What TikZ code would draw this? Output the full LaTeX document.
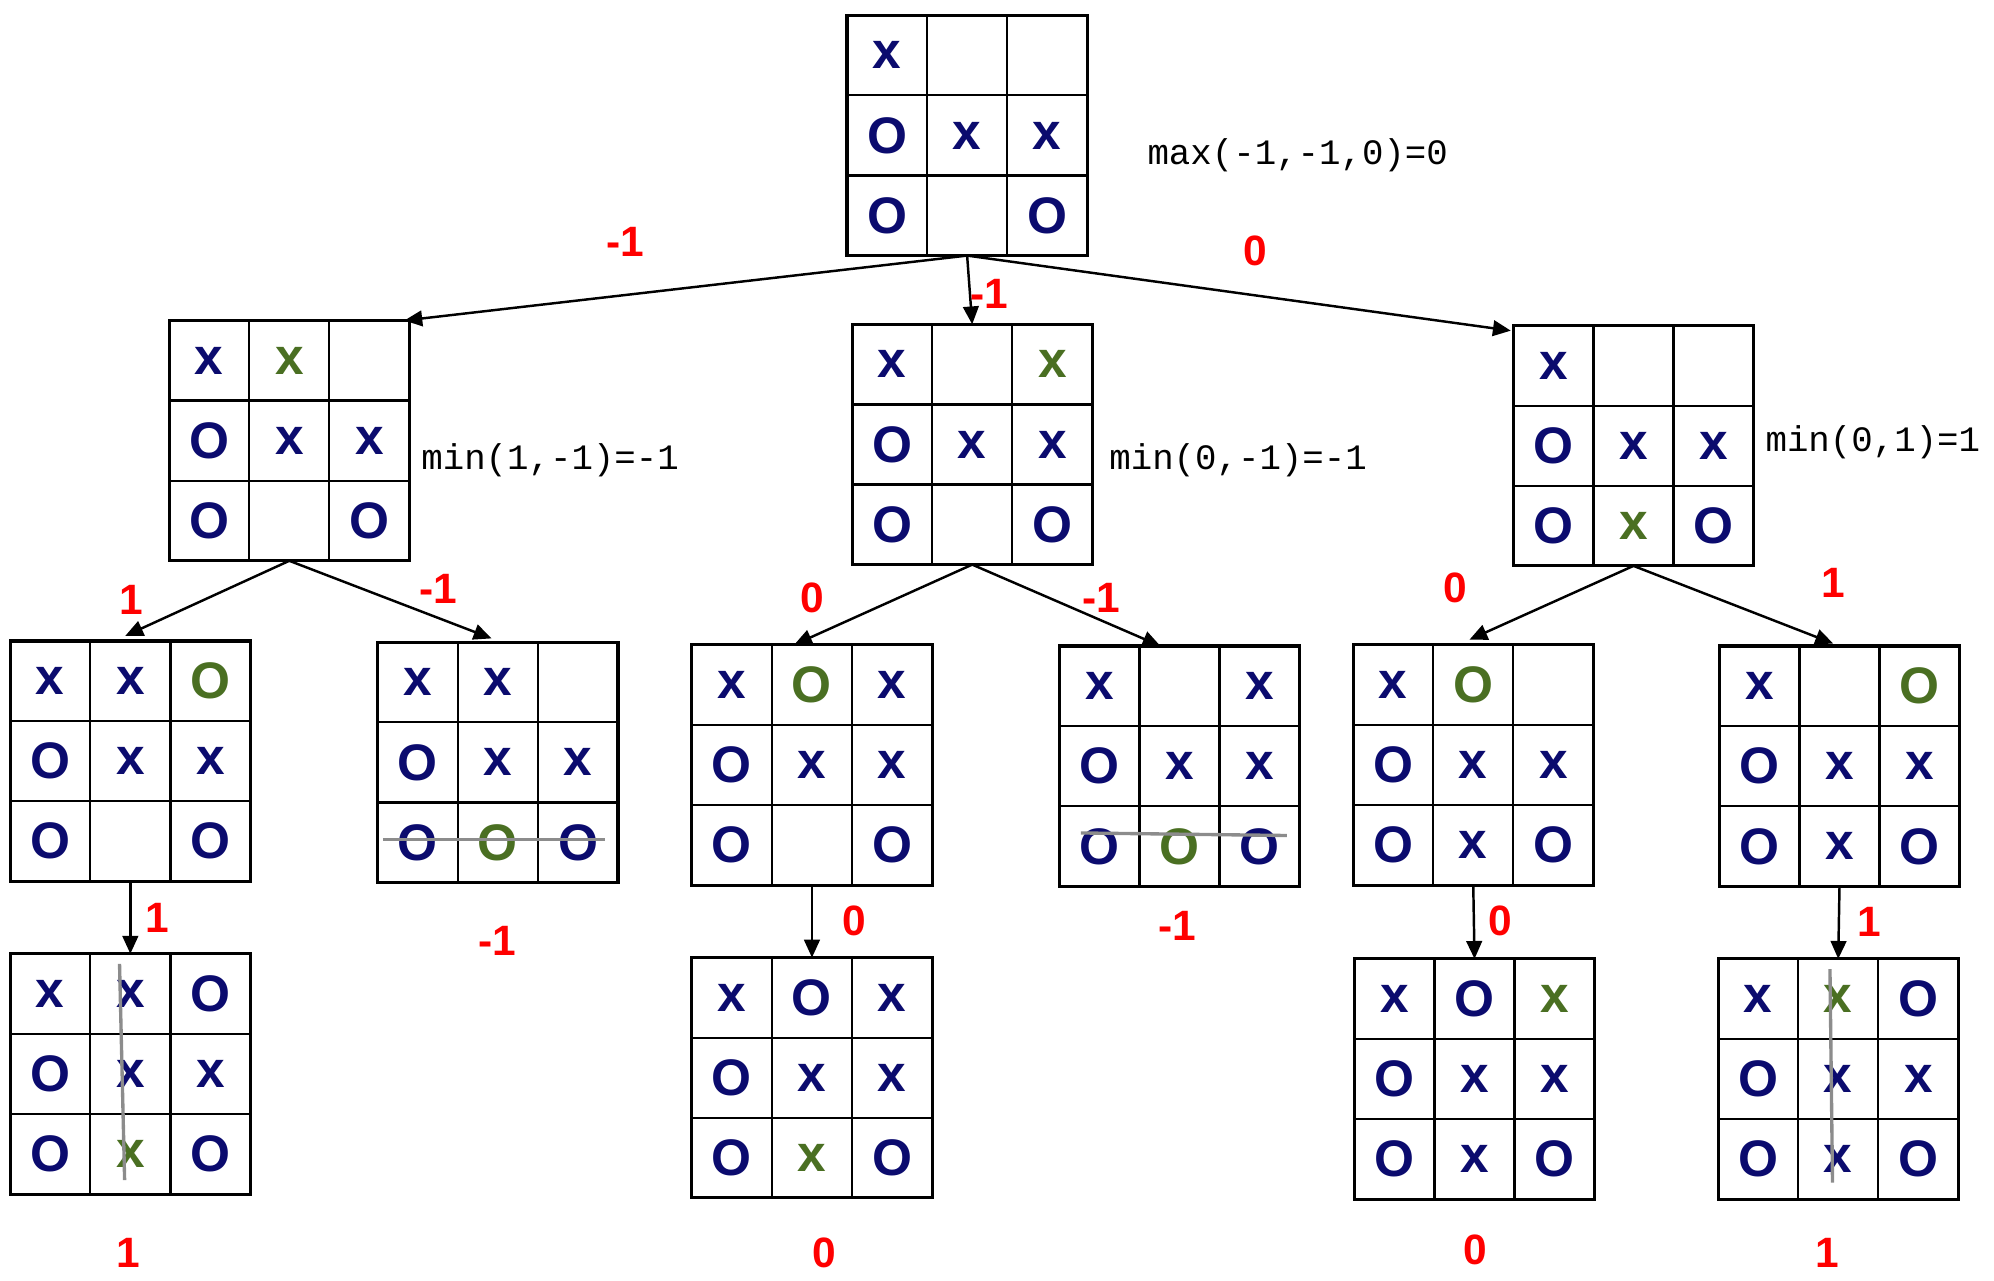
\documentclass[tikz,border=0pt]{standalone}
\usepackage{fontspec}
\usetikzlibrary{calc,arrows.meta}
\newfontfamily\sansf{Liberation Sans}
\newfontfamily\monof{Liberation Mono}
\definecolor{tnavy}{HTML}{0B0B6E}
\definecolor{tgreen}{HTML}{4A6F22}
\definecolor{tred}{HTML}{FF0000}
\definecolor{tgray}{HTML}{8C8C8C}
\newcommand\mX{\textcolor{tnavy}{x}}
\newcommand\mO{\textcolor{tnavy}{O}}
\newcommand\gX{\textcolor{tgreen}{x}}
\newcommand\gO{\textcolor{tgreen}{O}}
\newcommand\eE{}
\tikzset{
  board/.style={draw=black, line width=1.4pt, minimum width=3.78cm, minimum height=3.78cm, inner sep=0pt, outer sep=0pt},
  gridl/.style={draw=black, line width=1pt},
  cellmark/.style={font=\sansf\bfseries\fontsize{23}{23}\selectfont, inner sep=0pt},
  val/.style={font=\sansf\bfseries\fontsize{19}{19}\selectfont, text=tred, inner sep=0pt},
  eqtext/.style={font=\monof\fontsize{16}{16}\selectfont, anchor=west, inner sep=0pt},
  link/.style={line width=1.1pt, -{Triangle[length=8pt,width=7pt]}},
  strike/.style={draw=tgray, line width=1.5pt},
}
\newcommand\tttboard[4]{%
  \node[board] (#1) at ({#2+94.5},{#3+94.5}) {};
  \draw[gridl] ({#2+63},{#3}) -- ({#2+63},{#3+189}) ({#2+126},{#3}) -- ({#2+126},{#3+189})
               ({#2},{#3+63}) -- ({#2+189},{#3+63}) ({#2},{#3+126}) -- ({#2+189},{#3+126});
  \foreach \m [count=\i from 0, evaluate=\i as \cc using {mod(\i,3)}, evaluate=\i as \rr using {int(\i/3)}] in {#4}
    \node[cellmark] at ({#2+31.5+63*\cc},{#3+31.5+63*\rr}) {\m};
}
\begin{document}
\begin{tikzpicture}[x=0.02cm, y=-0.02cm]
\useasboundingbox (0,0) rectangle (1568,1007);
% boards
\tttboard{root}{666}{12}{\mX,\eE,\eE,\mO,\mX,\mX,\mO,\eE,\mO}
\tttboard{L}{133}{252}{\mX,\gX,\eE,\mO,\mX,\mX,\mO,\eE,\mO}
\tttboard{M}{670}{255}{\mX,\eE,\gX,\mO,\mX,\mX,\mO,\eE,\mO}
\tttboard{R}{1190}{256}{\mX,\eE,\eE,\mO,\mX,\mX,\mO,\gX,\mO}
\tttboard{LL}{8}{504}{\mX,\mX,\gO,\mO,\mX,\mX,\mO,\eE,\mO}
\tttboard{LR}{297}{505}{\mX,\mX,\eE,\mO,\mX,\mX,\mO,\gO,\mO}
\tttboard{ML}{544}{507}{\mX,\gO,\mX,\mO,\mX,\mX,\mO,\eE,\mO}
\tttboard{MR}{833}{508}{\mX,\eE,\mX,\mO,\mX,\mX,\mO,\gO,\mO}
\tttboard{RL}{1064}{507}{\mX,\gO,\eE,\mO,\mX,\mX,\mO,\mX,\mO}
\tttboard{RR}{1352}{508}{\mX,\eE,\gO,\mO,\mX,\mX,\mO,\mX,\mO}
\tttboard{LLL}{8}{750}{\mX,\mX,\mO,\mO,\mX,\mX,\mO,\gX,\mO}
\tttboard{MLL}{544}{753}{\mX,\mO,\mX,\mO,\mX,\mX,\mO,\gX,\mO}
\tttboard{RLL}{1065}{754}{\mX,\mO,\gX,\mO,\mX,\mX,\mO,\mX,\mO}
\tttboard{RRL}{1351}{754}{\mX,\gX,\mO,\mO,\mX,\mX,\mO,\mX,\mO}
% strike lines
\draw[strike] (301,660) -- (476,660);
\draw[strike] (850,655) -- (1012,657);
\draw[strike] (94,758) -- (98,928);
\draw[strike] (1439,762) -- (1441,930);
% connectors
\draw[link] (root.south) -- ($(L.north east)+(-4,0)$);
\draw[link] (root.south) -- (M.north);
\draw[link] (root.south) -- ($(R.north west)+(-2,4)$);
\draw[link] (L.south) -- ($(LL.north)+(-4,-4)$);
\draw[link] (L.south) -- ($(LR.north)+(-5,-3)$);
\draw[link] (M.south) -- ($(ML.north)+(-14,0)$);
\draw[link] (M.south) -- ($(MR.north)+(-15,0)$);
\draw[link] (R.south) -- ($(RL.north)+(-3,-4)$);
\draw[link] (R.south) -- ($(RR.north)+(-5,-2)$);
\draw[link] (LL.south) -- (LLL.north);
\draw[link] (ML.south) -- (MLL.north);
\draw[link] (RL.south) -- (RLL.north);
\draw[link] (RR.south) -- (RRL.north);
% values
\node[val] (v1) at (492,190) {-1};
\node[val] (v2) at (987,197) {0};
\node[val] (v3) at (778,231) {-1};
\node[val] (v4) at (103,472) {1};
\node[val] (v5) at (345,463) {-1};
\node[val] (v6) at (639,470) {0};
\node[val] (v7) at (866,470) {-1};
\node[val] (v8) at (1144,462) {0};
\node[val] (v9) at (1442,458) {1};
\node[val] (v10) at (124,722) {1};
\node[val] (v11) at (672,724) {0};
\node[val] (v12) at (1180,724) {0};
\node[val] (v13) at (1470,725) {1};
\node[val] (v14) at (391,740) {-1};
\node[val] (v15) at (926,728) {-1};
\node[val] (v16) at (101,985) {1};
\node[val] (v17) at (648,985) {0};
\node[val] (v18) at (1160,983) {0};
\node[val] (v19) at (1437,985) {1};
% equations
\node[eqtext] (e1) at (902,122) {max(-1,-1,0)=0};
\node[eqtext] (e2) at (331,362) {min(1,-1)=-1};
\node[eqtext] (e3) at (872,362) {min(0,-1)=-1};
\node[eqtext] (e4) at (1388,348) {min(0,1)=1};
\end{tikzpicture}
\end{document}
